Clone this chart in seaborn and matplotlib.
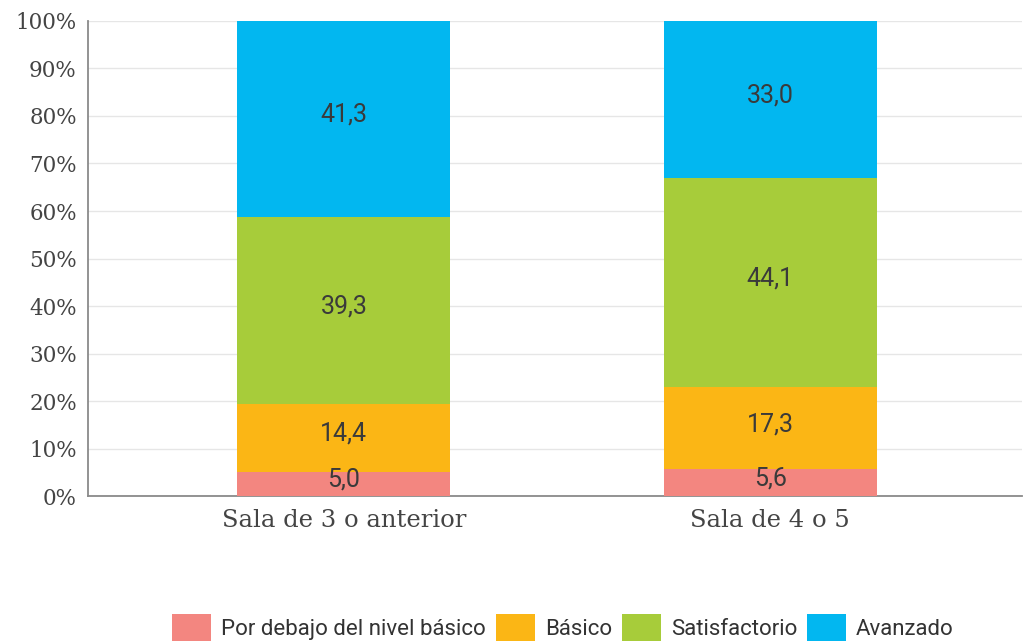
import matplotlib
matplotlib.use("Agg")
import matplotlib.pyplot as plt
import seaborn as sns
import pandas as pd
import numpy as np
from matplotlib.patches import Patch

categories = ["Sala de 3 o anterior", "Sala de 4 o 5"]
levels = ["Por debajo del nivel básico", "Básico", "Satisfactorio", "Avanzado"]
por_debajo = [5.0, 5.6]
basico = [14.4, 17.3]
satisfactorio = [39.3, 44.1]
avanzado = [41.3, 33.0]
colors = ["#F38680", "#FBB615", "#A7CC3A", "#02B7F0"]
yticks = [0, 10, 20, 30, 40, 50, 60, 70, 80, 90, 100]

sns.set_style("white")
plt.rcParams["font.family"] = ["DejaVu Serif"]

series = [por_debajo, basico, satisfactorio, avanzado]
df = pd.DataFrame({lvl: vals for lvl, vals in zip(levels, series)}, index=categories)
cum = df.cumsum(axis=1)

fig = plt.figure(figsize=(10.24, 6.44), dpi=100)
ax = fig.add_axes([0.0859, 0.2298, 0.912, 0.7376])

# stacked bars: draw cumulative totals from the top layer down
for lvl, col in reversed(list(zip(levels, colors))):
    sns.barplot(x=categories, y=cum[lvl].values, color=col, width=0.5,
                saturation=1, ax=ax, zorder=3, linewidth=0)

# segment value labels
for i, cat in enumerate(categories):
    for lvl in levels:
        v = df.loc[cat, lvl]
        mid = cum.loc[cat, lvl] - v / 2
        ax.annotate(f"{v:.1f}".replace(".", ","), (i, mid), xytext=(0, 3),
                    textcoords="offset points", ha="center", va="center",
                    fontsize=18, color="#3a3a3a", family="Roboto", zorder=5)

ax.set_xlim(-0.6, 1.59)
ax.set_ylim(0, 100)
ax.set_yticks(yticks)
ax.set_yticklabels([f"{t}%" for t in yticks])
ax.grid(axis="y", color="#e6e6e6", linewidth=1, zorder=0)
ax.set_axisbelow(True)
for s in ["top", "right"]:
    ax.spines[s].set_visible(False)
for s in ["left", "bottom"]:
    ax.spines[s].set_color("#8a8a8a")
    ax.spines[s].set_linewidth(1.3)
ax.tick_params(axis="both", length=5, width=1, color="#8a8a8a",
               labelcolor="#444444", pad=3)
ax.tick_params(axis="y", labelsize=15.5)
ax.tick_params(axis="x", labelsize=17.5, pad=4)
ax.set_xlabel("")
ax.set_ylabel("")

handles = [Patch(facecolor=c, edgecolor="none", label=l) for l, c in zip(levels, colors)]
fig.legend(handles=handles, loc="center", bbox_to_anchor=(0.55, 0.026), ncol=4,
           frameon=False, prop={"family": "Roboto", "size": 16},
           handlelength=1.75, handleheight=1.5, handletextpad=0.45,
           columnspacing=0.45, labelcolor="#333333")

fig.savefig("out.png", dpi=100)
